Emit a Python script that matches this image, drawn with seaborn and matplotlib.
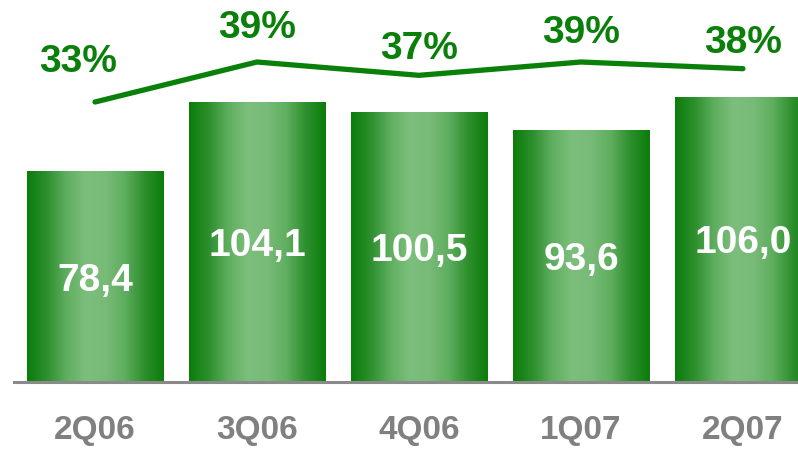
import numpy as np
import pandas as pd
import matplotlib
matplotlib.use('Agg')
import matplotlib.pyplot as plt
import seaborn as sns
from matplotlib.colors import LinearSegmentedColormap

# donnees
quarters = ['2Q06', '3Q06', '4Q06', '1Q07', '2Q07']
values = [78.4, 104.1, 100.5, 93.6, 106.0]
value_labels = ['78,4', '104,1', '100,5', '93,6', '106,0']
margins = [33, 39, 37, 39, 38]
margin_labels = ['33%', '39%', '37%', '39%', '38%']

# decalage (pixels) des etiquettes au-dessus de la ligne
label_dx = [-17, 0, 0, 0, 0]
label_dy = [30, 24, 16, 19, 16]

sns.set_theme(style='white')
plt.rcParams['font.family'] = ['Liberation Sans', 'DejaVu Sans']

green = '#0a800a'
fig = plt.figure(figsize=(7.98, 4.5), dpi=100)
ax = fig.add_axes([14/798, 68/450, 784/798, 382/450])

df = pd.DataFrame({'quarter': quarters, 'value': values})
sns.barplot(data=df, x='quarter', y='value', color=green, width=0.84,
            saturation=1, ax=ax)

# degrade horizontal sur les barres
cmap = LinearSegmentedColormap.from_list(
    'bar', ['#0b7d0b', '#2d8f2d', '#5fae5f', '#7cbe7c', '#78bb78', '#5fae5f', '#2d8f2d', '#0b7d0b'])
grad = np.linspace(0, 1, 256).reshape(1, -1)
for p in list(ax.patches):
    x0, y0 = p.get_x(), p.get_y()
    w, h = p.get_width(), p.get_height()
    im = ax.imshow(grad, extent=[x0, x0 + w, y0, y0 + h], aspect='auto',
                   cmap=cmap, zorder=p.get_zorder() + 0.1)
    im.set_clip_path(p)

for i, (v, lab) in enumerate(zip(values, value_labels)):
    ax.text(i, v / 2, lab, ha='center', va='center_baseline', color='white',
            fontsize=28, fontweight='bold', zorder=5)

ax.set_xlim(-0.5, 4.34)
ax.set_ylim(0, 142)
ax.set_xlabel('')
ax.set_ylabel('')
ax.set_yticks([])
sns.despine(ax=ax, left=True, top=True, right=True)
ax.spines['bottom'].set_color('#8a8a8a')
ax.spines['bottom'].set_linewidth(2.2)
ax.tick_params(axis='x', length=0, pad=24, labelsize=24, labelcolor='#808080')
for t in ax.get_xticklabels():
    t.set_fontweight('bold')

# ligne des marges sur un second axe
ax2 = ax.twinx()
sns.lineplot(x=np.arange(len(margins)), y=margins, color=green, linewidth=3.8,
             ax=ax2)
ax2.set_ylim(-9, 48.3)
ax2.set_yticks([])
ax2.set_ylabel('')
for s in ax2.spines.values():
    s.set_visible(False)

for i, (m, lab) in enumerate(zip(margins, margin_labels)):
    ax2.annotate(lab, (i, m), xytext=(label_dx[i], label_dy[i]),
                 textcoords='offset pixels', ha='center', va='baseline',
                 color=green, fontsize=28, fontweight='bold')

ax.set_xlim(-0.5, 4.34)
fig.savefig('out.png', dpi=100)
